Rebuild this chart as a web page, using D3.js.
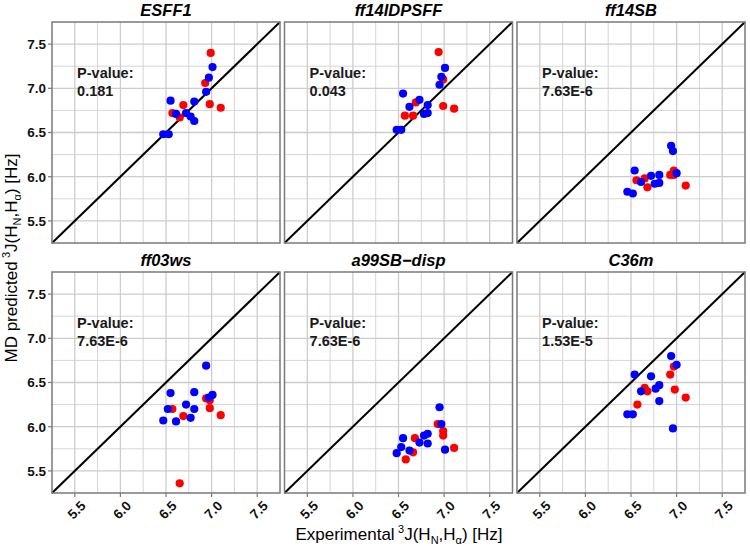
<!DOCTYPE html>
<html>
<head>
<meta charset="utf-8">
<script src="https://cdn.jsdelivr.net/npm/d3@7"></script>
<style>
  html, body { margin: 0; padding: 0; background: #fff; }
  svg { display: block; font-family: "Liberation Sans", Arial, sans-serif; }
</style>
</head>
<body>
<svg id="chart" width="750" height="546"></svg>
<script>
// ---- data ----
const panelTitles = ["ESFF1", "ff14IDPSFF", "ff14SB", "ff03ws", "a99SB\u2212disp", "C36m"];
const pValues = ["0.181", "0.043", "7.63E-6", "7.63E-6", "7.63E-6", "1.53E-5"];
const tickValues = [5.5, 6.0, 6.5, 7.0, 7.5];
const tickLabels = ["5.5", "6.0", "6.5", "7.0", "7.5"];
const minorValues = [5.75, 6.25, 6.75, 7.25];
const axisDomain = [5.25, 7.75];

// experimental x, predicted y for red and blue series per panel
const redX = [
  [6.99, 6.93, 6.98, 7.10, 6.69, 6.57, 6.65],
  [6.94, 6.99, 6.99, 7.11, 6.69, 6.57, 6.66],
  [6.56, 6.65, 6.68, 6.93, 6.97, 6.97, 7.10],
  [6.94, 6.98, 6.98, 7.10, 6.57, 6.69, 6.65],
  [6.93, 6.99, 6.99, 7.11, 6.68, 6.66, 6.58],
  [6.97, 6.93, 6.98, 7.10, 6.65, 6.68, 6.57]
];
const redY = [
  [7.40, 7.06, 6.82, 6.78, 6.81, 6.72, 6.67],
  [7.41, 7.10, 6.80, 6.77, 6.84, 6.69, 6.69],
  [5.96, 5.98, 5.88, 6.02, 6.07, 6.02, 5.90],
  [6.32, 6.30, 6.21, 6.13, 6.20, 6.12, 5.36],
  [6.03, 5.95, 5.90, 5.76, 5.87, 5.71, 5.63],
  [6.68, 6.59, 6.42, 6.33, 6.44, 6.40, 6.25]
];
const blueX = [
  [7.01, 6.97, 6.94, 6.81, 6.55, 6.61, 6.72, 6.77, 6.81, 6.47, 6.53],
  [7.01, 6.97, 6.95, 6.55, 6.62, 6.73, 6.82, 6.78, 6.82, 6.48, 6.53],
  [6.94, 6.96, 7.00, 6.54, 6.61, 6.72, 6.81, 6.76, 6.81, 6.46, 6.52],
  [6.94, 6.97, 7.01, 6.55, 6.81, 6.72, 6.81, 6.77, 6.61, 6.52, 6.47],
  [6.95, 6.97, 7.01, 6.55, 6.62, 6.73, 6.82, 6.78, 6.82, 6.53, 6.48],
  [6.94, 7.00, 6.96, 6.54, 6.72, 6.81, 6.77, 6.81, 6.61, 6.46, 6.52]
];
const blueY = [
  [7.24, 7.12, 6.96, 6.85, 6.86, 6.71, 6.72, 6.68, 6.63, 6.48, 6.48],
  [7.23, 7.13, 7.04, 6.94, 6.79, 6.87, 6.81, 6.71, 6.72, 6.53, 6.53],
  [6.35, 6.29, 6.04, 6.07, 5.94, 6.01, 6.02, 5.92, 5.93, 5.83, 5.81],
  [6.69, 6.33, 6.36, 6.38, 6.39, 6.25, 6.20, 6.10, 6.06, 6.20, 6.07],
  [6.22, 6.03, 5.74, 5.87, 5.73, 5.82, 5.92, 5.90, 5.81, 5.77, 5.70],
  [6.80, 6.70, 5.98, 6.59, 6.57, 6.47, 6.43, 6.29, 6.40, 6.14, 6.14]
];

// ---- layout ----
const colLeft = [52, 284.5, 517];
const rowTop = [22, 272];
const W = 228, H = 221;
const RED = "#ff0000", BLUE = "#0000ff";

const svg = d3.select("#chart");

panelTitles.forEach((title, i) => {
  const col = i % 3, row = Math.floor(i / 3);
  const x = d3.scaleLinear().domain(axisDomain).range([0, W]);
  const y = d3.scaleLinear().domain(axisDomain).range([H, 0]);
  const g = svg.append("g").attr("transform", `translate(${colLeft[col]},${rowTop[row]})`);

  // grid
  g.selectAll(".vminor").data(minorValues).join("line")
    .attr("x1", d => x(d)).attr("x2", d => x(d)).attr("y1", 0).attr("y2", H)
    .attr("stroke", "#d6d6d6").attr("stroke-width", 1);
  g.selectAll(".hminor").data(minorValues).join("line")
    .attr("y1", d => y(d)).attr("y2", d => y(d)).attr("x1", 0).attr("x2", W)
    .attr("stroke", "#d6d6d6").attr("stroke-width", 1);
  g.selectAll(".vmajor").data(tickValues).join("line")
    .attr("x1", d => x(d)).attr("x2", d => x(d)).attr("y1", 0).attr("y2", H)
    .attr("stroke", "#cccccc").attr("stroke-width", 1.3);
  g.selectAll(".hmajor").data(tickValues).join("line")
    .attr("y1", d => y(d)).attr("y2", d => y(d)).attr("x1", 0).attr("x2", W)
    .attr("stroke", "#cccccc").attr("stroke-width", 1.3);

  // diagonal
  g.append("line")
    .attr("x1", x(axisDomain[0])).attr("y1", y(axisDomain[0]))
    .attr("x2", x(axisDomain[1])).attr("y2", y(axisDomain[1]))
    .attr("stroke", "#000").attr("stroke-width", 2);

  // points
  const red = redX[i].map((v, k) => [v, redY[i][k]]);
  const blue = blueX[i].map((v, k) => [v, blueY[i][k]]);
  g.selectAll(".red").data(red).join("circle")
    .attr("cx", d => x(d[0])).attr("cy", d => y(d[1])).attr("r", 4.1).attr("fill", RED);
  g.selectAll(".blue").data(blue).join("circle")
    .attr("cx", d => x(d[0])).attr("cy", d => y(d[1])).attr("r", 4.1).attr("fill", BLUE);

  // p-value annotation
  const ann = g.append("text").attr("font-size", 14.5).attr("font-weight", "bold").attr("fill", "#1a1a1a");
  ann.append("tspan").attr("x", x(5.525)).attr("y", y(7.117)).text("P-value:");
  ann.append("tspan").attr("x", x(5.525)).attr("y", y(6.913)).text(pValues[i]);

  // border
  g.append("rect").attr("x", 0).attr("y", 0).attr("width", W).attr("height", H)
    .attr("fill", "none").attr("stroke", "#7a7a7a").attr("stroke-width", 1.5);

  // title
  g.append("text").attr("x", W / 2).attr("y", -6).attr("text-anchor", "middle")
    .attr("font-size", 16.5).attr("font-weight", "bold").attr("font-style", "italic")
    .attr("fill", "#000").text(title);

  // y axis on first column
  if (col === 0) {
    g.selectAll(".yt").data(tickValues).join("line")
      .attr("x1", -4).attr("x2", 0).attr("y1", d => y(d)).attr("y2", d => y(d))
      .attr("stroke", "#7a7a7a").attr("stroke-width", 1.2);
    g.selectAll(".yl").data(tickValues).join("text")
      .attr("x", -6).attr("y", d => y(d)).attr("dy", "0.36em")
      .attr("text-anchor", "end").attr("font-size", 13.5).attr("font-weight", "bold")
      .attr("fill", "#111").text((d, k) => tickLabels[k]);
  }
  // x axis on bottom row
  if (row === 1) {
    g.selectAll(".xt").data(tickValues).join("line")
      .attr("y1", H).attr("y2", H + 4).attr("x1", d => x(d)).attr("x2", d => x(d))
      .attr("stroke", "#7a7a7a").attr("stroke-width", 1.2);
    g.selectAll(".xl").data(tickValues).join("text")
      .attr("transform", d => `translate(${x(d) + 5},${H + 7}) rotate(-45)`)
      .attr("dy", "0.7em")
      .attr("text-anchor", "end").attr("font-size", 13.5).attr("font-weight", "bold")
      .attr("fill", "#111").text((d, k) => tickLabels[k]);
  }
});

// axis titles
function jLabel(sel) {
  sel.append("tspan").text("\u2009");
  sel.append("tspan").attr("font-size", 11).attr("dy", -7).text("3");
  sel.append("tspan").attr("dy", 7).text("J(H");
  sel.append("tspan").attr("font-size", 11).attr("dy", 3.5).text("N");
  sel.append("tspan").attr("dy", -3.5).text(",H");
  sel.append("tspan").attr("font-size", 11).attr("dy", 3.5).text("\u03b1");
  sel.append("tspan").attr("dy", -3.5).text(") [Hz]");
}
const xt = svg.append("text").attr("x", 399).attr("y", 540).attr("text-anchor", "middle")
  .attr("font-size", 17).attr("fill", "#000");
xt.append("tspan").text("Experimental");
jLabel(xt);

const yt = svg.append("text").attr("transform", "translate(17,258) rotate(-90)")
  .attr("text-anchor", "middle").attr("font-size", 17).attr("fill", "#000");
yt.append("tspan").text("MD predicted");
jLabel(yt);
</script>
</body>
</html>
